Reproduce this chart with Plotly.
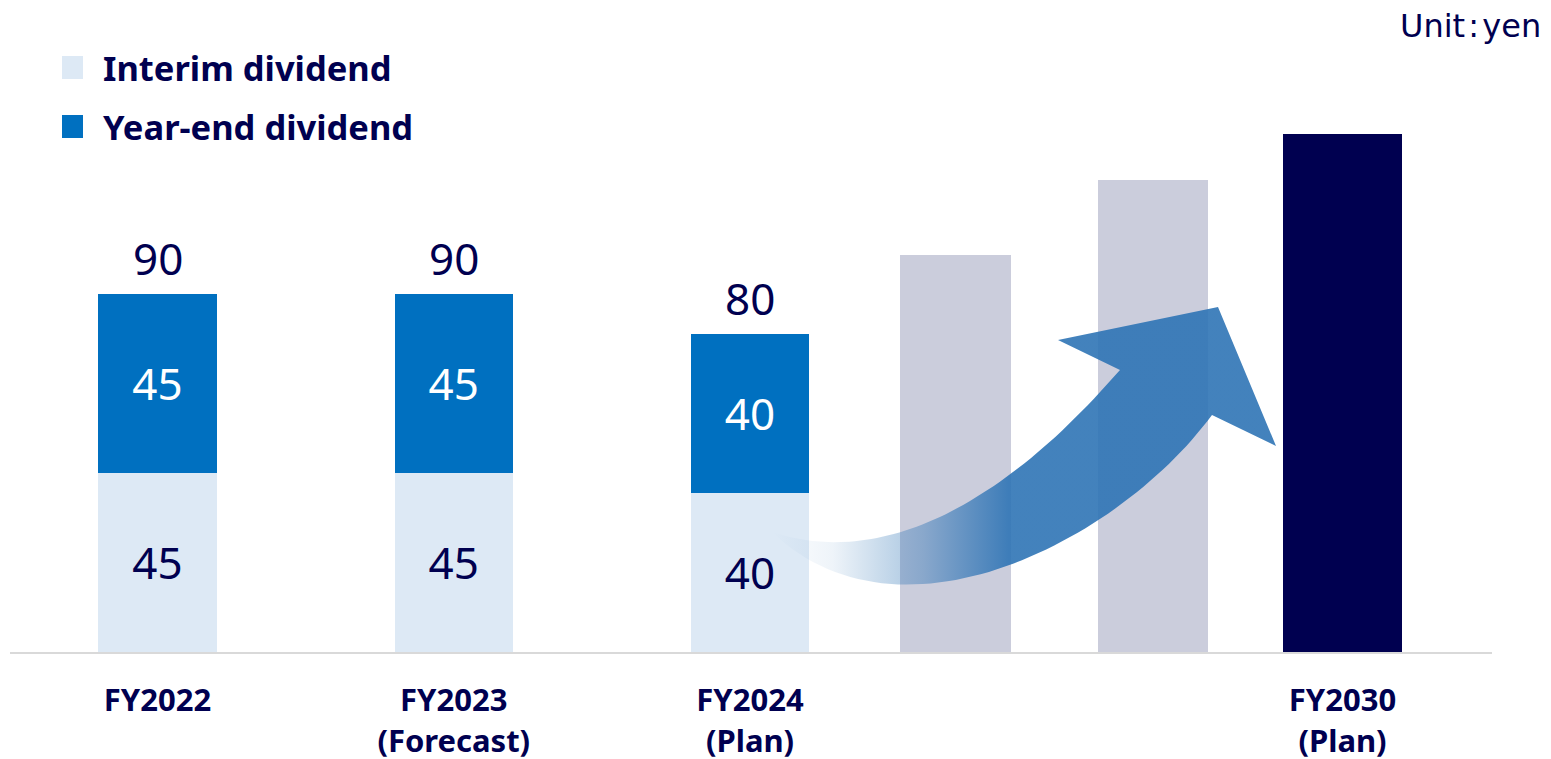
import plotly.graph_objects as go

# ---------------- data ----------------
categories = ["FY2022", "FY2023<br>(Forecast)", "FY2024<br>(Plan)", "", "", "FY2030<br>(Plan)"]
interim = [45, 45, 40]
year_end = [45, 45, 40]
totals = [90, 90, 80]
future_steps = [99.8, 118.7]     # unlabeled intermediate bars
fy2030_value = [130.2]           # unlabeled target bar

# ---------------- layout constants ----------------
W, H = 1551, 759
ML, MR, MT, MB = 10, 59, 100, 107
PW, PH = W - ML - MR, H - MT - MB
x_pos = [0, 3, 6, 8.08, 10.08, 12]     # slot positions along the axis
STEP_PX = 98.75                        # pixels per x unit
X0 = -(157.5 - ML) / STEP_PX
X1 = X0 + PW / STEP_PX
Y1 = PH / 3.978

NAVY = "#000050"
C_INTERIM = "#dde9f5"
C_YEAREND = "#0070c0"
C_GRAY = "#cbcddc"
FONT = "Noto Sans"


def px_x(px):
    return X0 + (px - ML) / STEP_PX


def px_y(py):
    return (MT + PH - py) * Y1 / PH


def bezier(p0, p1, p2, p3, n=60):
    pts = []
    for i in range(n + 1):
        t = i / n
        a, b, c, d = (1 - t) ** 3, 3 * (1 - t) ** 2 * t, 3 * (1 - t) * t ** 2, t ** 3
        pts.append((a * p0[0] + b * p1[0] + c * p2[0] + d * p3[0],
                    a * p0[1] + b * p1[1] + c * p2[1] + d * p3[1]))
    return pts


fig = go.Figure()

fig.add_trace(go.Bar(
    x=x_pos[:3], y=interim, width=1.2, marker=dict(color=C_INTERIM, line_width=0),
    text=[str(v) for v in interim], textposition="inside", insidetextanchor="middle",
    textangle=0, constraintext="none",
    textfont=dict(family=FONT, size=44, color=NAVY), name="Interim dividend",
    hoverinfo="skip", showlegend=False))
fig.add_trace(go.Bar(
    x=x_pos[:3], y=year_end, width=1.2, marker=dict(color=C_YEAREND, line_width=0),
    text=[str(v) for v in year_end], textposition="inside", insidetextanchor="middle",
    textangle=0, constraintext="none",
    textfont=dict(family=FONT, size=44, color="white"), name="Year-end dividend",
    hoverinfo="skip", showlegend=False))
fig.add_trace(go.Bar(
    x=x_pos[3:5], y=future_steps, width=1.12, marker=dict(color=C_GRAY, line_width=0),
    hoverinfo="skip", showlegend=False))
fig.add_trace(go.Bar(
    x=x_pos[5:], y=fy2030_value, width=1.2, marker=dict(color=NAVY, line_width=0),
    hoverinfo="skip", showlegend=False))

# ---------------- decorative curved arrow ----------------
upper = bezier((772, 532), (870, 565), (990, 520), (1120, 370))
head = [(1058, 340), (1218, 307), (1276, 446), (1212, 415)]
lower = bezier((1212, 415), (1120, 540), (900, 655), (772, 532))
outline = upper + head + lower[1:]
ax = [px_x(p[0]) for p in outline]
ay = [px_y(p[1]) for p in outline]
blue = "46,116,181"
fig.add_trace(go.Scatter(
    x=ax, y=ay, mode="lines", fill="toself", line=dict(width=0),
    fillgradient=dict(type="horizontal", colorscale=[
        [0.0, f"rgba({blue},0)"], [0.12, f"rgba({blue},0.08)"],
        [0.3, f"rgba({blue},0.42)"], [0.47, f"rgba({blue},0.9)"],
        [1.0, f"rgba({blue},0.9)"]]),
    hoverinfo="skip", showlegend=False))

# ---------------- total labels ----------------
annotations = []
for xp, t in zip(x_pos[:3], totals):
    annotations.append(dict(x=xp, y=t, text=str(t), showarrow=False, yanchor="bottom",
                            yshift=4, font=dict(family=FONT, size=44, color=NAVY)))

# ---------------- manual legend ----------------
def paper_x(px):
    return (px - ML) / PW


def paper_y(py):
    return (MT + PH - py) / PH


shapes = []
legend_items = [("Interim dividend", C_INTERIM, 56, 79), ("Year-end dividend", C_YEAREND, 115, 138)]
for label, col, y_top, y_bot in legend_items:
    shapes.append(dict(type="rect", xref="paper", yref="paper",
                       x0=paper_x(62), x1=paper_x(83), y0=paper_y(y_bot), y1=paper_y(y_top),
                       fillcolor=col, line_width=0, layer="above"))
    annotations.append(dict(xref="paper", yref="paper", x=paper_x(101), y=paper_y((y_top + y_bot) / 2),
                            xanchor="left", yanchor="middle", showarrow=False, text=f"<b>{label}</b>",
                            font=dict(family=FONT, size=34.5, color=NAVY)))

annotations.append(dict(xref="paper", yref="paper", x=paper_x(1543), y=paper_y(26),
                        xanchor="right", yanchor="middle", showarrow=False,
                        text="Unit\u200a:\u200ayen",
                        font=dict(family="DejaVu Sans", size=32, color=NAVY)))

fig.update_layout(
    width=W, height=H, margin=dict(l=ML, r=MR, t=MT, b=MB, autoexpand=False),
    paper_bgcolor="white", plot_bgcolor="white",
    barmode="stack", showlegend=False,
    xaxis=dict(range=[X0, X1], tickvals=x_pos, ticktext=[f"<b>{c}</b>" if c else "" for c in categories],
               tickfont=dict(family=FONT, size=31, color=NAVY), showgrid=False, zeroline=False,
               automargin=False,
               showline=True, linecolor="#d9d9d9", linewidth=2, ticks="", ticklabelstandoff=20),
    yaxis=dict(range=[0, Y1], visible=False, showgrid=False, zeroline=False, automargin=False),
    annotations=annotations, shapes=shapes,
    font=dict(family=FONT, color=NAVY),
)

fig.write_html("out.html")
